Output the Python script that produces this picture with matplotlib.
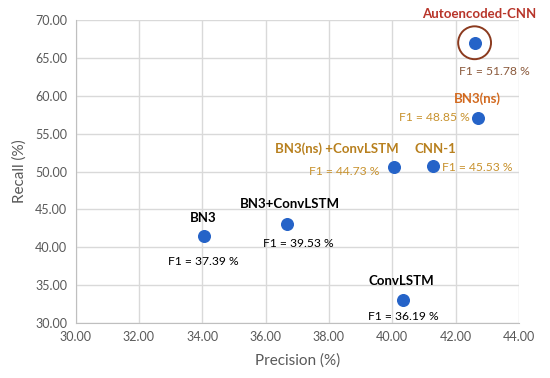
import matplotlib.pyplot as plt

plt.rcParams['font.family'] = ['Lato', 'DejaVu Sans']

# === DATA ===
models = ["Autoencoded-CNN", "BN3(ns)", "CNN-1", "BN3(ns) +ConvLSTM",
          "BN3", "BN3+ConvLSTM", "ConvLSTM"]
precision = [42.60, 42.70, 41.30, 40.05, 34.05, 36.67, 40.34]
recall = [67.00, 57.10, 50.70, 50.60, 41.50, 43.07, 33.04]
f1 = [51.78, 48.85, 45.53, 44.73, 37.39, 39.53, 36.19]

# label styling (colour of name, colour of F1 text, offsets in pixels)
name_colors = ["#B8352A", "#D2691E", "#B8801E", "#B8801E", "black", "black", "black"]
f1_colors = ["#8B5A3C", "#C8922E", "#C8922E", "#C8922E", "black", "black", "black"]
name_offsets = [(5, 29), (0, 19), (2, 17), (-57, 18), (-1, 18), (3, 20), (-2, 19)]
f1_offsets = [(20, -29), (-43, 0), (44, -1), (-50, -5), (-1, -26), (11, -19), (0, -17)]

fig = plt.figure(figsize=(5.5, 3.78), dpi=100)
ax = fig.add_axes([0.1375, 0.1455, 0.806, 0.8015])

ax.scatter(precision, recall, s=70, color="#2563C8", zorder=3)
# highlight ring around the best model
ax.scatter(precision[0], recall[0], s=560, facecolors="none",
           edgecolors="#8B3A1E", linewidths=1.4, zorder=3)

for i, name in enumerate(models):
    ax.annotate(name, (precision[i], recall[i]), xytext=name_offsets[i],
                textcoords="offset pixels", ha="center", va="center",
                fontsize=9.5, fontweight="bold", color=name_colors[i])
    ax.annotate(f"F1 = {f1[i]:.2f} %", (precision[i], recall[i]),
                xytext=f1_offsets[i], textcoords="offset pixels",
                ha="center", va="center", fontsize=8.7, color=f1_colors[i])

ax.set_xlim(30, 44)
ax.set_ylim(30, 70)
ax.set_xticks(range(30, 45, 2))
ax.set_yticks(range(30, 71, 5))
ax.xaxis.set_major_formatter(plt.FormatStrFormatter("%.2f"))
ax.yaxis.set_major_formatter(plt.FormatStrFormatter("%.2f"))
ax.tick_params(colors="#595959", labelsize=9, length=0, pad=6)
ax.grid(True, color="#D9D9D9", linewidth=1)
ax.set_axisbelow(True)
for side in ["top", "right"]:
    ax.spines[side].set_visible(False)
for side in ["left", "bottom"]:
    ax.spines[side].set_color("#BFBFBF")

ax.set_xlabel("Precision (%)", color="#595959", fontsize=11, labelpad=7)
ax.set_ylabel("Recall (%)", color="#595959", fontsize=11, labelpad=6)

fig.savefig("out.png", dpi=100)
